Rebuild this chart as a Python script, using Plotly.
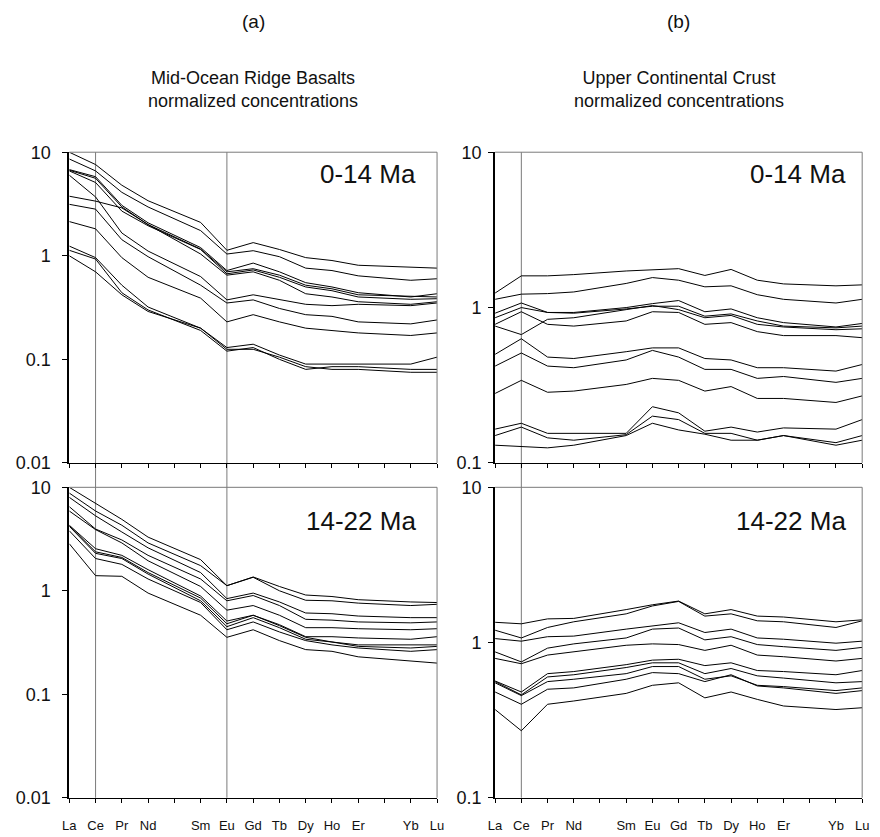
import plotly.graph_objects as go

# ---------------- data ----------------
ELEMENTS = ['La', 'Ce', 'Pr', 'Nd', 'Pm', 'Sm', 'Eu', 'Gd', 'Tb', 'Dy', 'Ho', 'Er', 'Tm', 'Yb', 'Lu']
PLOTTED = ['La', 'Ce', 'Pr', 'Nd', 'Sm', 'Eu', 'Gd', 'Tb', 'Dy', 'Ho', 'Er', 'Yb', 'Lu']
TICK_TEXT = [e if e in PLOTTED else '' for e in ELEMENTS]

# (a) MORB-normalized, 0-14 Ma
morb_0_14 = [
    [10.0, 7.6, 4.8, 3.4, 2.1, 1.13, 1.34, 1.15, 0.96, 0.90, 0.81, 0.78, 0.76],
    [8.6, 6.6, 4.1, 2.96, 1.75, 1.04, 1.12, 0.98, 0.76, 0.72, 0.64, 0.58, 0.60],
    [6.8, 5.8, 3.07, 2.08, 1.20, 0.72, 0.85, 0.70, 0.55, 0.50, 0.44, 0.40, 0.43],
    [6.7, 5.6, 2.96, 2.0, 1.16, 0.70, 0.75, 0.65, 0.52, 0.48, 0.42, 0.41, 0.40],
    [6.6, 5.1, 2.7, 1.95, 1.15, 0.67, 0.73, 0.62, 0.50, 0.46, 0.40, 0.38, 0.385],
    [3.76, 3.37, 2.9, 2.0, 1.04, 0.65, 0.70, 0.58, 0.43, 0.40, 0.36, 0.34, 0.36],
    [6.0, 3.7, 1.66, 1.11, 0.63, 0.375, 0.42, 0.38, 0.34, 0.33, 0.34, 0.33, 0.35],
    [3.14, 2.82, 1.43, 0.98, 0.52, 0.35, 0.375, 0.31, 0.27, 0.26, 0.23, 0.22, 0.24],
    [2.14, 1.82, 0.96, 0.62, 0.39, 0.23, 0.27, 0.23, 0.20, 0.19, 0.18, 0.17, 0.18],
    [1.24, 0.96, 0.52, 0.32, 0.20, 0.13, 0.14, 0.11, 0.09, 0.09, 0.09, 0.09, 0.105],
    [1.13, 0.93, 0.44, 0.30, 0.19, 0.12, 0.13, 0.10, 0.08, 0.085, 0.085, 0.08, 0.08],
    [1.0, 0.70, 0.42, 0.29, 0.20, 0.125, 0.125, 0.105, 0.085, 0.08, 0.08, 0.075, 0.075],
]

# (a) MORB-normalized, 14-22 Ma
morb_14_22 = [
    [10.0, 7.0, 4.9, 3.3, 2.0, 1.12, 1.36, 1.10, 0.91, 0.88, 0.82, 0.78, 0.77],
    [8.8, 5.9, 4.3, 2.9, 1.75, 1.12, 1.35, 1.00, 0.81, 0.80, 0.76, 0.72, 0.74],
    [8.0, 5.3, 3.7, 2.6, 1.5, 0.84, 0.95, 0.78, 0.61, 0.60, 0.57, 0.55, 0.55],
    [6.5, 3.95, 3.1, 2.2, 1.3, 0.80, 0.90, 0.72, 0.53, 0.52, 0.50, 0.49, 0.50],
    [5.9, 3.9, 2.9, 1.95, 1.1, 0.65, 0.72, 0.58, 0.44, 0.44, 0.43, 0.42, 0.43],
    [4.3, 2.55, 2.2, 1.6, 0.89, 0.51, 0.58, 0.47, 0.36, 0.36, 0.35, 0.34, 0.36],
    [4.25, 2.38, 2.1, 1.5, 0.85, 0.48, 0.58, 0.46, 0.355, 0.32, 0.30, 0.30, 0.30],
    [4.2, 2.3, 2.05, 1.45, 0.80, 0.45, 0.55, 0.44, 0.34, 0.32, 0.29, 0.28, 0.29],
    [3.8, 2.05, 1.8, 1.3, 0.77, 0.42, 0.50, 0.40, 0.33, 0.30, 0.28, 0.26, 0.27],
    [2.85, 1.4, 1.38, 0.95, 0.58, 0.355, 0.42, 0.33, 0.27, 0.26, 0.23, 0.21, 0.20],
]

# (b) UCC-normalized, 0-14 Ma
ucc_0_14 = [
    [1.24, 1.6, 1.6, 1.63, 1.72, 1.75, 1.78, 1.61, 1.76, 1.50, 1.42, 1.38, 1.40],
    [1.13, 1.22, 1.23, 1.26, 1.43, 1.56, 1.50, 1.36, 1.38, 1.21, 1.13, 1.07, 1.13],
    [0.92, 1.07, 0.93, 0.93, 1.0, 1.06, 1.11, 0.94, 0.98, 0.86, 0.80, 0.75, 0.79],
    [0.86, 1.0, 0.93, 0.92, 0.98, 1.02, 1.02, 0.88, 0.91, 0.82, 0.76, 0.74, 0.76],
    [0.76, 0.67, 0.84, 0.86, 0.97, 1.03, 0.97, 0.86, 0.89, 0.78, 0.75, 0.72, 0.73],
    [0.78, 0.94, 0.78, 0.76, 0.82, 0.94, 0.93, 0.78, 0.80, 0.70, 0.66, 0.66, 0.64],
    [0.50, 0.63, 0.48, 0.47, 0.52, 0.55, 0.55, 0.47, 0.46, 0.41, 0.41, 0.39, 0.43],
    [0.42, 0.51, 0.42, 0.41, 0.46, 0.53, 0.48, 0.40, 0.40, 0.35, 0.36, 0.33, 0.35],
    [0.28, 0.34, 0.285, 0.29, 0.32, 0.35, 0.34, 0.29, 0.31, 0.26, 0.26, 0.245, 0.27],
    [0.165, 0.18, 0.155, 0.155, 0.155, 0.23, 0.21, 0.16, 0.17, 0.158, 0.168, 0.165, 0.19],
    [0.15, 0.17, 0.145, 0.14, 0.152, 0.20, 0.19, 0.155, 0.155, 0.14, 0.15, 0.135, 0.15],
    [0.13, 0.128, 0.125, 0.13, 0.15, 0.18, 0.163, 0.153, 0.14, 0.14, 0.15, 0.13, 0.14],
]

# (b) UCC-normalized, 14-22 Ma
ucc_14_22 = [
    [1.35, 1.32, 1.42, 1.43, 1.63, 1.75, 1.85, 1.53, 1.63, 1.48, 1.46, 1.36, 1.40],
    [1.2, 1.07, 1.25, 1.36, 1.53, 1.72, 1.84, 1.48, 1.53, 1.38, 1.36, 1.25, 1.38],
    [1.06, 1.02, 1.09, 1.10, 1.22, 1.28, 1.34, 1.16, 1.22, 1.07, 1.05, 0.99, 1.02],
    [0.87, 0.75, 0.92, 0.98, 1.07, 1.22, 1.24, 1.04, 1.09, 0.97, 0.94, 0.89, 0.93],
    [0.79, 0.73, 0.83, 0.87, 0.96, 0.98, 0.97, 0.89, 0.96, 0.83, 0.81, 0.76, 0.79],
    [0.565, 0.48, 0.63, 0.65, 0.72, 0.77, 0.78, 0.71, 0.74, 0.66, 0.65, 0.62, 0.66],
    [0.56, 0.46, 0.60, 0.62, 0.69, 0.74, 0.74, 0.63, 0.68, 0.61, 0.59, 0.55, 0.56],
    [0.55, 0.455, 0.56, 0.58, 0.63, 0.70, 0.70, 0.58, 0.61, 0.53, 0.52, 0.49, 0.51],
    [0.48, 0.40, 0.50, 0.51, 0.58, 0.64, 0.63, 0.56, 0.62, 0.525, 0.51, 0.47, 0.49],
    [0.37, 0.27, 0.40, 0.42, 0.47, 0.53, 0.55, 0.44, 0.48, 0.43, 0.39, 0.37, 0.38],
]

TITLE_A = "Mid-Ocean Ridge Basalts<br>normalized concentrations"
TITLE_B = "Upper Continental Crust<br>normalized concentrations"
PANEL_TOP = "0-14 Ma"
PANEL_BOTTOM = "14-22 Ma"

# ---------------- figure ----------------
W, H = 880, 837
FONT = "Liberation Sans, Arial, Helvetica, sans-serif"

def px_x(p):
    return p / W

def px_y(p):
    return 1 - p / H

xl_dom = [px_x(63.3), px_x(437)]
xr_dom = [px_x(496), px_x(869)]
yt_dom = [px_y(464), px_y(145.7)]
yb_dom = [px_y(807), px_y(489)]

xpos = [ELEMENTS.index(e) for e in PLOTTED]

fig = go.Figure()

panels = [
    (morb_0_14, 'x', 'y', xl_dom, yt_dom, [-2, 1], False),
    (ucc_0_14, 'x2', 'y2', xr_dom, yt_dom, [-1, 1], False),
    (morb_14_22, 'x3', 'y3', xl_dom, yb_dom, [-2, 1], True),
    (ucc_14_22, 'x4', 'y4', xr_dom, yb_dom, [-1, 1], True),
]

for data, xa, ya, xd, yd, yr, showlab in panels:
    for row in data:
        fig.add_trace(go.Scatter(x=xpos, y=row, mode='lines', xaxis=xa, yaxis=ya,
                                 line=dict(color='black', width=1), showlegend=False,
                                 hoverinfo='skip'))

layout = dict(width=W, height=H, margin=dict(l=0, r=0, t=0, b=0),
              paper_bgcolor='white', plot_bgcolor='white',
              font=dict(family=FONT, color='#111'), showlegend=False)

for i, (data, xa, ya, xd, yd, yr, showlab) in enumerate(panels):
    xkey = 'xaxis' if xa == 'x' else 'xaxis' + xa[1:]
    ykey = 'yaxis' if ya == 'y' else 'yaxis' + ya[1:]
    layout[xkey] = dict(domain=xd, anchor=ya, range=[0, 14], showgrid=False, zeroline=False,
                        tickmode='array', tickvals=list(range(len(ELEMENTS))), ticktext=TICK_TEXT,
                        ticks='outside', ticklen=4, tickwidth=1, tickcolor='black',
                        showline=True, linecolor='black', linewidth=1,
                        showticklabels=showlab, tickfont=dict(size=13, family=FONT, color='#111'),
                        ticklabelstandoff=12)
    tv = [0.01, 0.1, 1, 10] if yr[0] == -2 else [0.1, 1, 10]
    layout[ykey] = dict(domain=yd, anchor=xa, type='log', range=yr, showgrid=False, zeroline=False,
                        tickmode='array', tickvals=tv, ticktext=[('%g' % v) for v in tv],
                        ticks='outside', ticklen=5, tickwidth=1, tickcolor='black',
                        showline=True, linecolor='black', linewidth=2,
                        tickfont=dict(size=18, family=FONT, color='#111'),
                        ticklabelstandoff=8 if yr[0] == -2 else 3)

fig.update_layout(**layout)

shapes = []
for xa, el in [('x', 'Ce'), ('x', 'Eu'), ('x2', 'Ce')]:
    shapes.append(dict(type='line', xref=xa, yref='paper', x0=ELEMENTS.index(el), x1=ELEMENTS.index(el),
                       y0=yb_dom[0], y1=yt_dom[1], line=dict(color='#7a7a7a', width=1), layer='below'))
for xa, ya in [('x', 'y'), ('x2', 'y2'), ('x3', 'y3'), ('x4', 'y4')]:
    shapes.append(dict(type='line', xref=xa + ' domain', yref=ya + ' domain', x0=0, x1=1, y0=1, y1=1,
                       line=dict(color='#7a7a7a', width=1)))
    shapes.append(dict(type='line', xref=xa + ' domain', yref=ya + ' domain', x0=1, x1=1, y0=0, y1=1,
                       line=dict(color='#7a7a7a', width=1)))
fig.update_layout(shapes=shapes)

ann = []
cl = (xl_dom[0] + xl_dom[1]) / 2
cr = (xr_dom[0] + xr_dom[1]) / 2
for cx, lab, title in [(cl, '(a)', TITLE_A), (cr, '(b)', TITLE_B)]:
    ann.append(dict(xref='paper', yref='paper', x=cx, y=px_y(12), text=lab, showarrow=False,
                    xanchor='center', yanchor='middle', font=dict(size=19, family=FONT, color='#111')))
    ann.append(dict(xref='paper', yref='paper', x=cx, y=px_y(81), text=title, showarrow=False,
                    xanchor='center', yanchor='middle', font=dict(size=18, family=FONT, color='#111')))
for xa, ya, txt, xf, yf in [('x', 'y', PANEL_TOP, 0.947, 0.93), ('x2', 'y2', PANEL_TOP, 0.962, 0.93),
                            ('x3', 'y3', PANEL_BOTTOM, 0.947, 0.89), ('x4', 'y4', PANEL_BOTTOM, 0.962, 0.89)]:
    ann.append(dict(xref=xa + ' domain', yref=ya + ' domain', x=xf, y=yf, text=txt, showarrow=False,
                    xanchor='right', yanchor='middle', font=dict(size=26, family=FONT, color='#111')))
fig.update_layout(annotations=ann)

fig.write_html("out.html")
